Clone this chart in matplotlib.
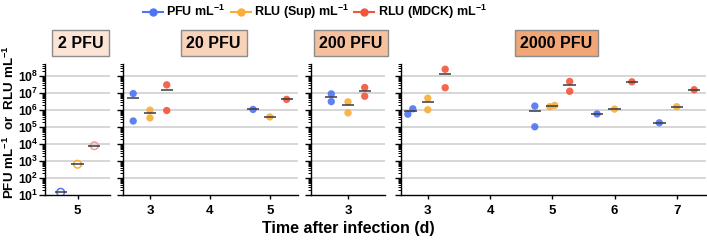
import numpy as np
import matplotlib
matplotlib.use("Agg")
import matplotlib.pyplot as plt
from matplotlib.lines import Line2D
from matplotlib.ticker import LogLocator, NullFormatter, FixedLocator

plt.rcParams['font.family'] = ['Liberation Sans', 'DejaVu Sans']
plt.rcParams['font.weight'] = 'bold'
plt.rcParams['mathtext.fontset'] = 'custom'
plt.rcParams['mathtext.rm'] = 'Liberation Sans:bold'
plt.rcParams['mathtext.it'] = 'Liberation Sans:bold'
plt.rcParams['mathtext.bf'] = 'Liberation Sans:bold'
plt.rcParams['mathtext.default'] = 'rm'

# ---------------- data ----------------
panel_titles = ["2 PFU", "20 PFU", "200 PFU", "2000 PFU"]
panel_days = [[5], [3, 4, 5], [3], [3, 4, 5, 6, 7]]
series_names = ["PFU mL$^{-1}$", "RLU (Sup) mL$^{-1}$", "RLU (MDCK) mL$^{-1}$"]

pfu_panel = [0, 1, 1, 1, 2, 2, 3, 3, 3, 3, 3, 3]
pfu_day   = [5, 3, 3, 5, 3, 3, 3, 3, 5, 5, 6, 7]
pfu_value = [14.5, 9.5e6, 2.3e5, 1.1e6, 9.1e6, 3.2e6, 5.8e5, 1.2e6, 1.74e6, 1.05e5, 6.0e5, 1.8e5]

sup_panel = [0, 1, 1, 1, 2, 2, 3, 3, 3, 3, 3, 3]
sup_day   = [5, 3, 3, 5, 3, 3, 3, 3, 5, 5, 6, 7]
sup_value = [650, 1.0e6, 3.5e5, 4.0e5, 3.1e6, 6.9e5, 5.1e6, 1.05e6, 1.6e6, 1.9e6, 1.15e6, 1.6e6]

mdck_panel = [0, 1, 1, 1, 2, 2, 3, 3, 3, 3, 3, 3]
mdck_day   = [5, 3, 3, 5, 3, 3, 3, 3, 5, 5, 6, 7]
mdck_value = [8000, 3.1e7, 9.5e5, 4.3e6, 2.15e7, 6.6e6, 2.57e8, 2.1e7, 4.9e7, 1.3e7, 4.7e7, 1.6e7]

# ---------------- style ----------------
colors = ["#4f73f2", "#f9ad3a", "#f4543a"]
open_edge = ["#4f73f2", "#f9ad3a", "#f29b9b"]
strip_colors = ["#fbe4d5", "#f8d2b9", "#f5c09d", "#f0a676"]
offsets = [-0.28, 0.0, 0.28]

W, H = 707, 240
fig = plt.figure(figsize=(W / 100, H / 100), dpi=100)

px_ranges = [(45, 110), (123, 298), (311, 385), (401, 706)]
xlims = [(4.46, 5.54), (2.55, 5.47), (2.38, 3.62), (2.57, 7.47)]
ax_bottom, ax_top = 195, 64
ylim = (10, 10 ** 8.72)

series = [(pfu_panel, pfu_day, pfu_value),
          (sup_panel, sup_day, sup_value),
          (mdck_panel, mdck_day, mdck_value)]

axes = []
for i, ((x0, x1), xl) in enumerate(zip(px_ranges, xlims)):
    ax = fig.add_axes([x0 / W, 1 - ax_bottom / H, (x1 - x0) / W, (ax_bottom - ax_top) / H])
    axes.append(ax)
    ax.set_yscale('log')
    ax.set_ylim(*ylim)
    ax.set_xlim(*xl)
    ax.set_xticks(panel_days[i])
    ax.set_xticklabels([str(d) for d in panel_days[i]], fontsize=9.5, fontweight='bold')
    ax.yaxis.set_major_locator(FixedLocator([10.0 ** k for k in range(1, 9)]))
    ax.yaxis.set_minor_locator(LogLocator(base=10, subs=np.arange(2, 10), numticks=20))
    ax.yaxis.set_minor_formatter(NullFormatter())
    for k in range(2, 9):
        ax.axhline(10.0 ** k, color="#d6d6d6", lw=1.4, zorder=0)
    if i == 0:
        ax.set_yticklabels(["10$^{%d}$" % k for k in range(1, 9)], fontsize=8.8)
    else:
        ax.set_yticklabels([])
    for s in ['top', 'right']:
        ax.spines[s].set_visible(False)
    ax.spines['left'].set_linewidth(1.0)
    ax.spines['bottom'].set_linewidth(1.0)
    ax.tick_params(axis='y', which='major', length=4, width=1, pad=1)
    ax.tick_params(axis='y', which='minor', length=2, width=0.7)
    ax.tick_params(axis='x', length=3, width=1, pad=4)
    ax.set_facecolor('none')

    # strip label
    cx = (x0 + x1) / 2 / W
    fig.text(cx + 3 / W, 1 - 43 / H, panel_titles[i], ha='center', va='center',
             fontsize=11.5, fontweight='bold',
             bbox=dict(boxstyle='square,pad=0.36', fc=strip_colors[i], ec='#8c8c8c', lw=1))

    for si, (pp, dd, vv) in enumerate(series):
        pp = np.array(pp); dd = np.array(dd); vv = np.array(vv, dtype=float)
        sel = pp == i
        for d in np.unique(dd[sel]):
            vals = vv[sel & (dd == d)]
            xc = d + offsets[si]
            xs = np.full(len(vals), xc)
            if len(vals) == 2 and abs(np.log10(vals[0]) - np.log10(vals[1])) < 0.35:
                xs = xc + np.array([-0.04, 0.04])
            if i == 0:
                ax.scatter(xs, vals, s=30, facecolors='none', edgecolors=open_edge[si],
                           linewidths=1.1, zorder=3)
            else:
                ax.scatter(xs, vals, s=28, color=colors[si], alpha=0.9, edgecolors='none', zorder=3)
            m = vals.mean()
            ax.hlines(m, xc - 0.1, xc + 0.1, color="#3a3a3a", lw=1.1, zorder=4)

fig.text(9.5 / W, 1 - 122 / H, "PFU mL$^{-1}$  or  RLU mL$^{-1}$", rotation=90,
         ha='center', va='center', fontsize=9.6, fontweight='bold')
fig.text(348 / W, 1 - 228 / H, "Time after infection (d)", ha='center', va='center',
         fontsize=11.5, fontweight='bold')

handles = [Line2D([0], [0], color=c, marker='o', ms=5, lw=1.5) for c in colors]
fig.legend(handles, series_names, loc='center', bbox_to_anchor=(315 / W, 1 - 12 / H),
           ncol=3, frameon=False, handlelength=1.6, handletextpad=0.3,
           columnspacing=0.4, prop={'weight': 'bold', 'size': 9})

fig.savefig("out.png", dpi=100)
